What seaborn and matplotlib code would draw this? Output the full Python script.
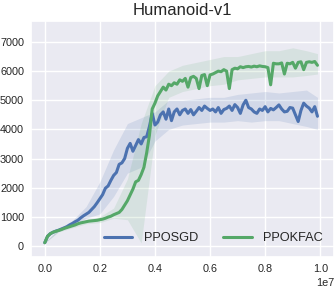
import numpy as np
import pandas as pd
import seaborn as sns
import matplotlib.pyplot as plt

# training steps (x1e6) for the mean curves
steps = np.arange(100) / 10.0

ppo_sgd = [110, 330, 420, 470, 510, 540, 580, 620, 660, 720,
           770, 830, 880, 960, 1030, 1090, 1150, 1250, 1350, 1480,
           1620, 1760, 1980, 2060, 2250, 2420, 2520, 2800, 2850, 3000,
           3350, 3520, 3250, 3450, 3650, 3500, 3720, 3750, 4100, 4550,
           4150, 4250, 4500, 4600, 4350, 4700, 4300, 4600, 4700, 4500,
           4650, 4700, 4550, 4680, 4500, 4620, 4750, 4650, 4800, 4720,
           4650, 4700, 4600, 4750, 4550, 4680, 4720, 4800, 4650, 4850,
           4750, 4550, 4840, 5000, 4750, 4700, 4600, 4550, 4700, 4650,
           4780, 4600, 4720, 4670, 4750, 4840, 4700, 4600, 4620, 4750,
           4730, 4500, 4270, 4650, 4900, 4800, 4730, 4600, 4780, 4450]

ppo_kfac = [110, 330, 420, 470, 500, 530, 560, 600, 630, 660,
            690, 720, 760, 790, 810, 830, 850, 860, 870, 880,
            900, 920, 950, 990, 1020, 1070, 1110, 1150, 1250, 1400,
            1550, 1750, 1950, 2200, 2250, 2450, 2700, 3200, 3800, 4700,
            4900, 5150, 5300, 5450, 5350, 5550, 5500, 5600, 5550, 5700,
            5650, 5750, 5450, 5780, 5820, 5750, 5400, 5850, 5880, 5500,
            5870, 5900, 5950, 6000, 5980, 6050, 6000, 5400, 6050, 6100,
            6080, 6150, 6120, 6150, 6160, 6140, 6170, 6150, 6180, 6160,
            6150, 6120, 5530, 6270, 6250, 6250, 6280, 5900, 6270, 6250,
            6300, 6100, 6300, 6320, 6050, 6300, 6320, 6300, 6330, 6200]

# spread across seeds, coarser grid
band_steps = [0, 0.5, 1.0, 1.5, 2.0, 2.5, 3.0, 3.5, 4.0, 4.5, 5.0,
              5.5, 6.0, 6.5, 7.0, 7.5, 8.0, 8.5, 9.0, 9.5, 9.9]
sgd_low = [100, 500, 700, 950, 1100, 1700, 2500, 2700, 3600, 4000, 4150,
           4200, 4250, 4250, 4300, 4250, 4300, 4300, 4200, 4100, 4000]
sgd_high = [120, 580, 870, 1350, 2200, 3300, 4200, 4400, 4600, 5000, 5000,
            5050, 5100, 5100, 5200, 5250, 5300, 5250, 5300, 5350, 5100]
kfac_low = [100, 480, 620, 760, 800, 950, 900, 100, 3800, 5100, 5300,
            5400, 5500, 5550, 5700, 5750, 5800, 5800, 5800, 5850, 5900]
kfac_high = [120, 560, 760, 900, 1000, 1300, 2300, 4200, 5500, 6000, 6200,
             6300, 6400, 6500, 6500, 6600, 6700, 6700, 6800, 6700, 6600]

yticks = [0, 1000, 2000, 3000, 4000, 5000, 6000, 7000]

sns.set_theme(style="darkgrid")
plt.rcParams['font.family'] = ['Liberation Sans', 'DejaVu Sans']

blue = "#4C72B0"
green = "#55A868"

df = pd.DataFrame({"steps": np.array(steps) * 1e6,
                   "PPOSGD": ppo_sgd,
                   "PPOKFAC": ppo_kfac})
bx = np.array(band_steps) * 1e6

fig = plt.figure(figsize=(3.34, 2.88), dpi=100)
ax = fig.add_axes([31 / 334, 31 / 288, 303 / 334, 236 / 288])

ax.fill_between(bx, sgd_low, sgd_high, color=blue, alpha=0.15, lw=0)
ax.fill_between(bx, kfac_low, kfac_high, color=green, alpha=0.13, lw=0)
sns.lineplot(data=df, x="steps", y="PPOSGD", color=blue, lw=2.2, label="PPOSGD", ax=ax)
sns.lineplot(data=df, x="steps", y="PPOKFAC", color=green, lw=2.2, label="PPOKFAC", ax=ax)

ax.set_xlim(-0.05e7, 1.05e7)
ax.set_ylim(-380, 7720)
ax.set_yticks(yticks)
ax.set_xlabel("")
ax.set_ylabel("")
ax.tick_params(labelsize=7.8, length=0, pad=5)
ax.xaxis.get_offset_text().set_fontsize(7.8)
ax.set_title("Humanoid-v1", fontsize=12, pad=4)

ax.legend(loc="center", bbox_to_anchor=(0.602, 0.08), ncol=2, frameon=False,
          fontsize=9.2, handlelength=2.2, handletextpad=0.9, columnspacing=2.0)

fig.savefig("out.png", dpi=100)
